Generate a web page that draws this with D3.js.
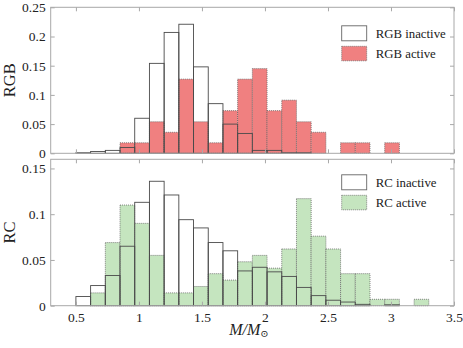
<!DOCTYPE html>
<html>
<head>
<meta charset="utf-8">
<script src="https://cdn.jsdelivr.net/npm/d3@7"></script>
<style>
  body { margin: 0; background: #fff; }
  svg text { font-family: "Liberation Serif", "DejaVu Serif", serif; fill: #222; }
</style>
</head>
<body>
<div id="chart"></div>
<script>
// histogram bins: 24 bins from 0.5 to 3.3
var binStart = 0.5;
var binWidth = 0.11667;

var rgbInactive = [0.001, 0.003, 0.005, 0.010, 0.060, 0.154, 0.207, 0.221, 0.148, 0.085, 0.050, 0.034,
                   0.005, 0.005, 0.001, 0.001, 0, 0, 0, 0, 0, 0, 0, 0];
var rgbActive   = [0, 0, 0, 0.018, 0.018, 0.054, 0.036, 0.127, 0.054, 0.018, 0.073, 0.127,
                   0.145, 0.073, 0.091, 0.054, 0.036, 0, 0.018, 0.018, 0, 0.018, 0, 0];
var rcInactive  = [0.010, 0.022, 0.033, 0.065, 0.113, 0.136, 0.121, 0.094, 0.085, 0.069, 0.060, 0.038,
                   0.042, 0.037, 0.032, 0.020, 0.011, 0.006, 0.004, 0.0015, 0, 0.001, 0, 0];
var rcActive    = [0, 0.014, 0.069, 0.110, 0.090, 0.055, 0.014, 0.014, 0.021, 0.035, 0.028, 0.048,
                   0.055, 0.041, 0.062, 0.117, 0.076, 0.062, 0.035, 0.035, 0.007, 0.007, 0, 0.007];

var xTicks = [0.5, 1, 1.5, 2, 2.5, 3, 3.5];
var rgbYTicks = [0, 0.05, 0.1, 0.15, 0.2, 0.25];
var rcYTicks = [0, 0.05, 0.1, 0.15];

var width = 463, height = 348;
var frameColor = "#a8a8a8";

var svg = d3.select("#chart").append("svg")
    .attr("width", width)
    .attr("height", height);

var x = d3.scaleLinear().domain([0.3, 3.5]).range([50.7, 454]);
var fmt = function (d) { return String(+d.toFixed(2)); };

var panels = [
    { label: "RGB", inactive: rgbInactive, active: rgbActive, fill: "#f08080",
      names: ["RGB inactive", "RGB active"], yMax: 0.25, yTicks: rgbYTicks,
      top: 7.3, bottom: 153.3, xLabels: false, legendTop: 18.5 },
    { label: "RC", inactive: rcInactive, active: rcActive, fill: "#c5e5bf",
      names: ["RC inactive", "RC active"], yMax: 0.16, yTicks: rcYTicks,
      top: 159.3, bottom: 305.7, xLabels: true, legendTop: 15.5 }
];

panels.forEach(function (p) {
    var y = d3.scaleLinear().domain([0, p.yMax]).range([p.bottom, p.top]);
    var g = svg.append("g");

    function bins(values) {
        return values.map(function (v, i) {
            return { x0: binStart + i * binWidth, x1: binStart + (i + 1) * binWidth, v: v };
        });
    }

    // active bars (filled, dotted edge)
    g.selectAll(".act")
        .data(bins(p.active).filter(function (d) { return d.v > 0; }))
        .enter().append("rect")
        .attr("class", "act")
        .attr("x", function (d) { return x(d.x0); })
        .attr("width", function (d) { return x(d.x1) - x(d.x0); })
        .attr("y", function (d) { return y(d.v); })
        .attr("height", function (d) { return y(0) - y(d.v); })
        .attr("fill", p.fill)
        .attr("stroke", "#666")
        .attr("stroke-width", 0.8)
        .attr("stroke-dasharray", "1,1");

    // inactive bars (outline only)
    g.selectAll(".inact")
        .data(bins(p.inactive))
        .enter().append("rect")
        .attr("class", "inact")
        .attr("x", function (d) { return x(d.x0); })
        .attr("width", function (d) { return x(d.x1) - x(d.x0); })
        .attr("y", function (d) { return y(d.v); })
        .attr("height", function (d) { return y(0) - y(d.v); })
        .attr("fill", "none")
        .attr("stroke", "#4a4a4a")
        .attr("stroke-width", 0.9);

    // frame
    g.append("rect")
        .attr("x", x.range()[0])
        .attr("y", p.top)
        .attr("width", x.range()[1] - x.range()[0])
        .attr("height", p.bottom - p.top)
        .attr("fill", "none")
        .attr("stroke", frameColor)
        .attr("stroke-width", 1);

    // axes, ticks pointing inward
    var axB = g.append("g").attr("transform", "translate(0," + p.bottom + ")")
        .call(d3.axisBottom(x).tickValues(xTicks).tickSize(-4).tickPadding(7)
            .tickFormat(p.xLabels ? fmt : function () { return ""; }));
    var axT = g.append("g").attr("transform", "translate(0," + p.top + ")")
        .call(d3.axisTop(x).tickValues(xTicks).tickSize(-4).tickFormat(function () { return ""; }));
    var axL = g.append("g").attr("transform", "translate(" + x.range()[0] + ",0)")
        .call(d3.axisLeft(y).tickValues(p.yTicks).tickSize(-4).tickPadding(5).tickFormat(fmt));
    var axR = g.append("g").attr("transform", "translate(" + x.range()[1] + ",0)")
        .call(d3.axisRight(y).tickValues(p.yTicks).tickSize(-4).tickFormat(function () { return ""; }));

    [axB, axT, axL, axR].forEach(function (a) {
        a.select(".domain").remove();
        a.selectAll(".tick line").attr("stroke", frameColor);
        a.selectAll(".tick text")
            .style("font-family", "'Liberation Serif', serif")
            .style("font-size", "13.5px")
            .attr("fill", "#222");
    });

    // y label
    svg.append("text")
        .attr("transform", "translate(15," + ((p.top + p.bottom) / 2) + ") rotate(-90)")
        .attr("text-anchor", "middle")
        .style("font-size", "16.5px")
        .text(p.label);

    // legend
    var lg = g.append("g").attr("transform", "translate(341.7," + (p.top + p.legendTop) + ")");
    lg.append("rect")
        .attr("width", 25).attr("height", 15)
        .attr("fill", "#fff").attr("stroke", "#666").attr("stroke-width", 0.9);
    lg.append("rect")
        .attr("y", 20.5).attr("width", 25).attr("height", 14.5)
        .attr("fill", p.fill).attr("stroke", "#666").attr("stroke-width", 0.8)
        .attr("stroke-dasharray", "1,1");
    lg.selectAll("text.leg")
        .data(p.names)
        .enter().append("text")
        .attr("class", "leg")
        .attr("x", 34)
        .attr("y", function (d, i) { return 12 + i * 19.8; })
        .style("font-size", "12.8px")
        .text(function (d) { return d; });
});

// x label M/M_sun
var xl = svg.append("text")
    .attr("x", 249)
    .attr("y", 334.5)
    .attr("text-anchor", "middle")
    .style("font-size", "16px")
    .style("font-style", "italic");
xl.append("tspan").text("M/M");
xl.append("tspan").attr("dy", 2.5).style("font-size", "10px").style("font-style", "normal").text("\u2299");
</script>
</body>
</html>
